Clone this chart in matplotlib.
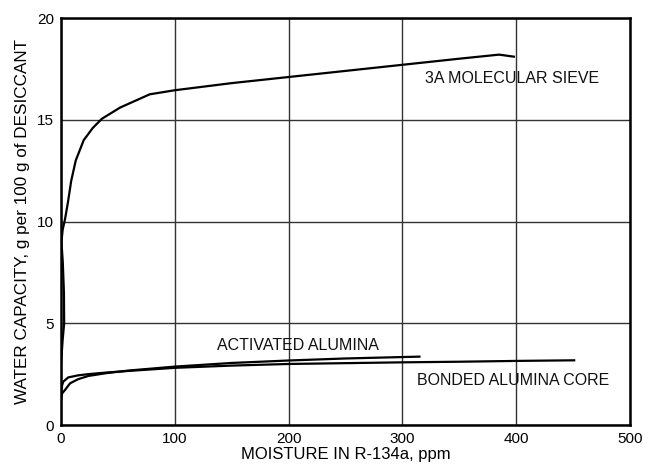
import numpy as np
import matplotlib.pyplot as plt

plt.rcParams['font.family'] = ['Liberation Sans', 'DejaVu Sans']

# 3A molecular sieve (ppm, g/100 g)
sieve_x = [0, 1.5, 2.8, 2.6, 1.6, 0.4, 1.5, 3.5, 6, 9, 13, 20, 28, 36, 52, 78, 100, 150, 200, 250, 300, 350, 385, 398]
sieve_y = [3.0, 4.2, 5.0, 6.5, 8.0, 9.0, 9.6, 10.1, 10.9, 12.0, 13.0, 14.0, 14.6, 15.05, 15.6, 16.25, 16.45, 16.8, 17.1, 17.4, 17.7, 18.0, 18.2, 18.1]

# activated alumina
act_x = [0, 1, 3.5, 8, 15, 24, 40, 60, 100, 150, 200, 250, 300, 315]
act_y = [1.2, 1.55, 1.72, 2.05, 2.25, 2.41, 2.55, 2.68, 2.87, 3.05, 3.17, 3.27, 3.34, 3.36]

# bonded alumina core
bond_x = [0, 1, 2, 6.4, 15, 24, 40, 60, 100, 150, 200, 250, 300, 350, 400, 451]
bond_y = [1.5, 1.95, 2.13, 2.34, 2.44, 2.5, 2.58, 2.66, 2.81, 2.92, 3.0, 3.04, 3.08, 3.11, 3.15, 3.18]

labels = ["3A MOLECULAR SIEVE", "ACTIVATED ALUMINA", "BONDED ALUMINA CORE"]
label_x = [396, 208, 397]
label_y = [17.05, 3.93, 2.18]

fig = plt.figure(figsize=(6.57, 4.70), dpi=100)
ax = fig.add_axes([0.0928, 0.0957, 0.866, 0.866])

ax.plot(sieve_x, sieve_y, color='black', lw=1.6, solid_joinstyle='round')
ax.plot(act_x, act_y, color='black', lw=1.6, solid_joinstyle='round')
ax.plot(bond_x, bond_y, color='black', lw=1.6, solid_joinstyle='round')

for t, x, y in zip(labels, label_x, label_y):
    ax.text(x, y, t, ha='center', va='center', fontsize=11.5, color='#111111')

ax.set_xlim(0, 500)
ax.set_ylim(0, 20)
ax.set_xticks(np.arange(0, 501, 100))
ax.set_yticks(np.arange(0, 21, 5))
ax.grid(True, color='#333333', lw=1.0)
ax.tick_params(length=0, labelsize=11, pad=5)
for s in ax.spines.values():
    s.set_linewidth(1.8)
    s.set_color('black')

ax.set_xlabel("MOISTURE IN R-134a, ppm", fontsize=12, labelpad=1)
ax.set_ylabel("WATER CAPACITY, g per 100 g of DESICCANT", fontsize=12.3, labelpad=5)

fig.savefig("out.png", dpi=100)
